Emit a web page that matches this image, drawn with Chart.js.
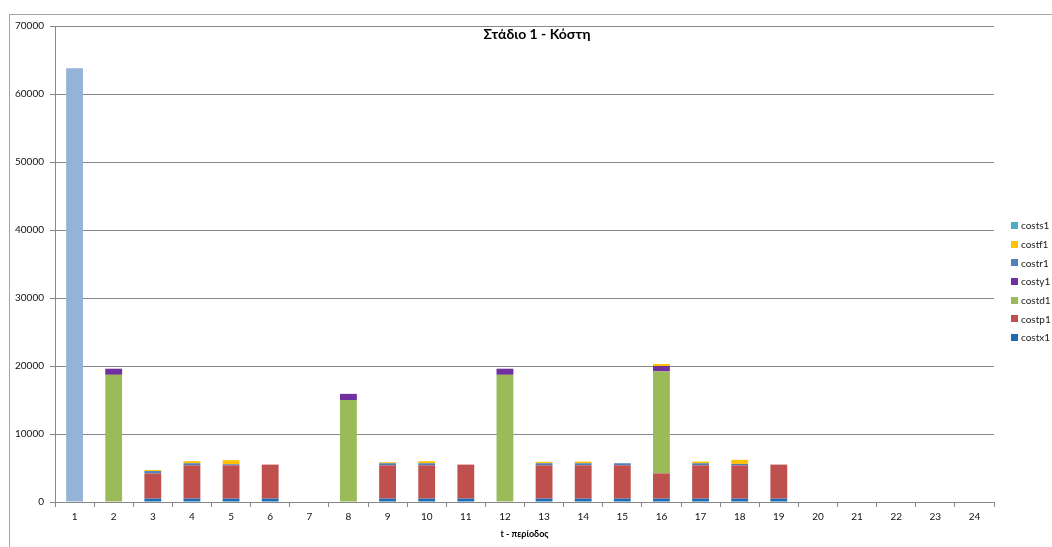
<!DOCTYPE html>
<html>
<head>
<meta charset="utf-8">
<script src="https://cdn.jsdelivr.net/npm/chart.js@4.4.1/dist/chart.umd.min.js"></script>
<style>
    body { margin: 0; background: #fff; font-family: Lato, 'Noto Sans', sans-serif; }
    #wrap { position: relative; width: 1052px; height: 547px; overflow: hidden; }
    #frame { position: absolute; left: 9px; top: 14px; width: 1100px; height: 600px;
             border-left: 1px solid #a6a6a6; border-top: 1px solid #a6a6a6; }
    #title { position: absolute; left: 437px; top: 25px; width: 200px; text-align: center;
             font-weight: bold; font-size: 14px; color: #000; }
    #legend { position: absolute; left: 1011px; top: 216px; font-size: 10px; color: #222; }
    .leg-item { height: 18.7px; display: flex; align-items: center; }
    .leg-box { width: 7px; height: 7px; margin-right: 3px; }
</style>
</head>
<body>
<div id="wrap">
    <div id="frame"></div>
    <canvas id="costChart" width="1052" height="547"></canvas>
    <div id="title">Στάδιο 1 - Κόστη</div>
    <div id="legend"></div>
</div>
<script>
const periods = ['1','2','3','4','5','6','7','8','9','10','11','12','13','14','15','16','17','18','19','20','21','22','23','24'];

const cost1  = [63800,0,0,0,0,0,0,0,0,0,0,0,0,0,0,0,0,0,0,0,0,0,0,0];
const costx1 = [0,0,500,500,500,500,0,0,500,500,500,0,500,500,500,500,500,500,500,0,0,0,0,0];
const costp1 = [0,0,3700,4900,4900,5000,0,0,4900,4900,5000,0,4900,4900,4900,3700,4900,4900,5000,0,0,0,0,0];
const costd1 = [0,18700,0,0,0,0,0,15000,0,0,0,18700,0,0,0,15000,0,0,0,0,0,0,0,0];
const costy1 = [0,900,0,0,0,0,0,900,0,0,0,900,0,0,0,800,0,0,0,0,0,0,0,0];
const costr1 = [0,0,350,300,150,0,0,0,300,300,0,0,300,300,300,0,300,200,0,0,0,0,0,0];
const costf1 = [0,0,150,300,600,0,0,0,150,300,0,0,200,250,0,300,250,600,0,0,0,0,0,0];
const costs1 = [0,0,0,0,0,0,0,0,0,0,0,0,0,0,0,0,0,0,0,0,0,0,0,0];

const yTicks = [0,10000,20000,30000,40000,50000,60000,70000];

const series = [
    { label: 'costx1', data: costx1, color: '#1f6cb6' },
    { label: 'costp1', data: costp1, color: '#c0504d' },
    { label: 'costd1', data: costd1, color: '#9bbb59' },
    { label: 'costy1', data: costy1, color: '#7030a0' },
    { label: 'costr1', data: costr1, color: '#4f81bd' },
    { label: 'costf1', data: costf1, color: '#ffc000' },
    { label: 'costs1', data: costs1, color: '#4bacc6' }
];

const datasets = [{ label: '', data: cost1, backgroundColor: '#95b3d7' }].concat(series.map(s => ({
    label: s.label,
    data: s.data,
    backgroundColor: s.color
})));

// legend, Excel style: reversed order
const legend = document.getElementById('legend');
series.slice().reverse().forEach(s => {
    const item = document.createElement('div');
    item.className = 'leg-item';
    item.innerHTML = `<span class="leg-box" style="background:${s.color}"></span><span>${s.label}</span>`;
    legend.appendChild(item);
});

const tickFont = { family: 'Lato, "Noto Sans", sans-serif', size: 10 };

new Chart(document.getElementById('costChart'), {
    type: 'bar',
    data: { labels: periods, datasets: datasets },
    options: {
        responsive: false,
        animation: false,
        layout: { padding: { top: 26, right: 58, left: 0, bottom: 0 } },
        datasets: { bar: { barPercentage: 0.43, categoryPercentage: 1, borderWidth: 0 } },
        plugins: {
            legend: { display: false },
            tooltip: { enabled: false }
        },
        scales: {
            x: {
                stacked: true,
                grid: { offset: true, drawOnChartArea: false, drawTicks: true, tickLength: 5, color: '#888' },
                border: { color: '#888' },
                ticks: { font: tickFont, color: '#111', padding: 4 },
                title: { display: true, text: 't - περίοδος', font: { family: tickFont.family, size: 9, weight: 'bold' }, color: '#000', padding: { top: 2, bottom: 8 } },
                afterFit: axis => { axis.height = 45; }
            },
            y: {
                stacked: true,
                min: 0,
                max: 70000,
                afterBuildTicks: axis => { axis.ticks = yTicks.map(v => ({ value: v })); },
                grid: { color: '#888', tickLength: 5 },
                border: { color: '#888' },
                ticks: { font: tickFont, color: '#111', padding: 6, callback: v => String(v) },
                afterFit: axis => { axis.width = 55; }
            }
        }
    }
});
</script>
</body>
</html>
